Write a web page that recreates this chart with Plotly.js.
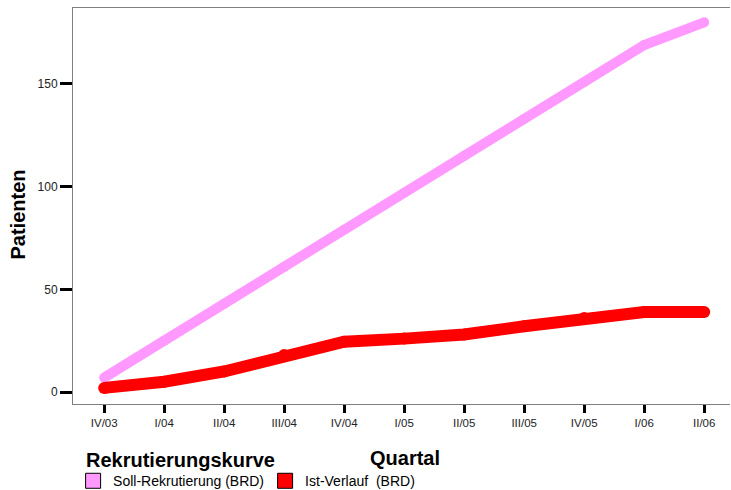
<!DOCTYPE html>
<html>
<head>
<meta charset="utf-8">
<script src="https://cdn.plot.ly/plotly-3.0.1.min.js"></script>
<style>html,body{margin:0;padding:0;background:#fff;}#chart{width:731px;height:490px;}</style>
</head>
<body>
<div id="chart"></div>
<script>
var quarters = ["IV/03","I/04","II/04","III/04","IV/04","I/05","II/05","III/05","IV/05","I/06","II/06"];
var sollValues = [7, 25, 43, 61, 79, 97, 115, 133, 151, 169, 180];
var istValues = [2, 5, 10, 18, 24.5, 26, 28, 32, 36, 39, 39];
var seriesNames = ["Soll-Rekrutierung (BRD)", "Ist-Verlauf  (BRD)"];
var seriesColors = ["#FF99FF", "#FF0000"];
var yTicks = [0, 50, 100, 150];
var xTitle = "Quartal";
var yTitle = "Patienten";
var legendTitle = "Rekrutierungskurve";

var FONT = "Liberation Sans, Arial, sans-serif";

var traces = [
  {x: quarters, y: sollValues, type: "scatter", mode: "lines+markers", name: seriesNames[0],
   line: {color: seriesColors[0], width: 10}, marker: {color: seriesColors[0], size: 10, line: {width: 0}},
   showlegend: false, hoverinfo: "x+y"},
  {x: quarters, y: istValues, type: "scatter", mode: "lines+markers", name: seriesNames[1],
   line: {color: seriesColors[1], width: 12}, marker: {color: seriesColors[1], size: 12, line: {width: 0}},
   showlegend: false, hoverinfo: "x+y"},
  {x: [null], y: [null], type: "scatter", mode: "markers", name: seriesNames[0],
   marker: {symbol: "square", size: 15, color: seriesColors[0], line: {color: "#000", width: 1}}},
  {x: [null], y: [null], type: "scatter", mode: "markers", name: seriesNames[1],
   marker: {symbol: "square", size: 15, color: seriesColors[1], line: {color: "#000", width: 1}}}
];

var layout = {
  width: 731, height: 490,
  margin: {l: 73, r: 1, t: 8, b: 86},
  paper_bgcolor: "#fff", plot_bgcolor: "#fff",
  font: {family: FONT, color: "#000"},
  xaxis: {
    type: "category", range: [-0.52, 10.43],
    showline: true, linecolor: "#808080", linewidth: 1, mirror: true,
    ticks: "outside", ticklen: 8, tickwidth: 3, tickcolor: "#000",
    showgrid: false, zeroline: false, automargin: false,
    tickfont: {size: 11.5, color: "#222", family: FONT}
  },
  yaxis: {
    range: [-5.84, 187], tickvals: yTicks, ticktext: yTicks.map(String),
    showline: true, linecolor: "#808080", linewidth: 1,
    ticks: "outside", ticklen: 12, tickwidth: 3, tickcolor: "#000",
    showgrid: false, zeroline: false, automargin: false,
    tickfont: {size: 12, color: "#222", family: FONT}
  },
  annotations: [
    {text: "<b>" + xTitle + "</b>", xref: "paper", yref: "paper", x: 0.505, y: -0.136,
     xanchor: "center", yanchor: "middle", showarrow: false,
     font: {size: 20, family: FONT, color: "#000"}},
    {text: "<b>" + yTitle + "</b>", xref: "paper", yref: "paper", x: -0.084, y: 0.478,
     xanchor: "center", yanchor: "middle", showarrow: false, textangle: -90,
     font: {size: 20, family: FONT, color: "#000"}},
    {text: "<b>" + legendTitle + "</b>", xref: "paper", yref: "paper", x: 0.017, y: -0.141,
     xanchor: "left", yanchor: "middle", showarrow: false,
     font: {size: 20, family: FONT, color: "#000"}}
  ],
  legend: {
    orientation: "h", xref: "container", yref: "container",
    x: 0.100, y: 0.018, xanchor: "left", yanchor: "middle",
    itemwidth: 30, traceorder: "normal", entrywidth: 147, entrywidthmode: "pixels",
    font: {size: 14, family: FONT, color: "#000"},
    bgcolor: "rgba(0,0,0,0)", borderwidth: 0
  },
  showlegend: true
};

Plotly.newPlot("chart", traces, layout, {displayModeBar: false, staticPlot: true});
</script>
</body>
</html>
